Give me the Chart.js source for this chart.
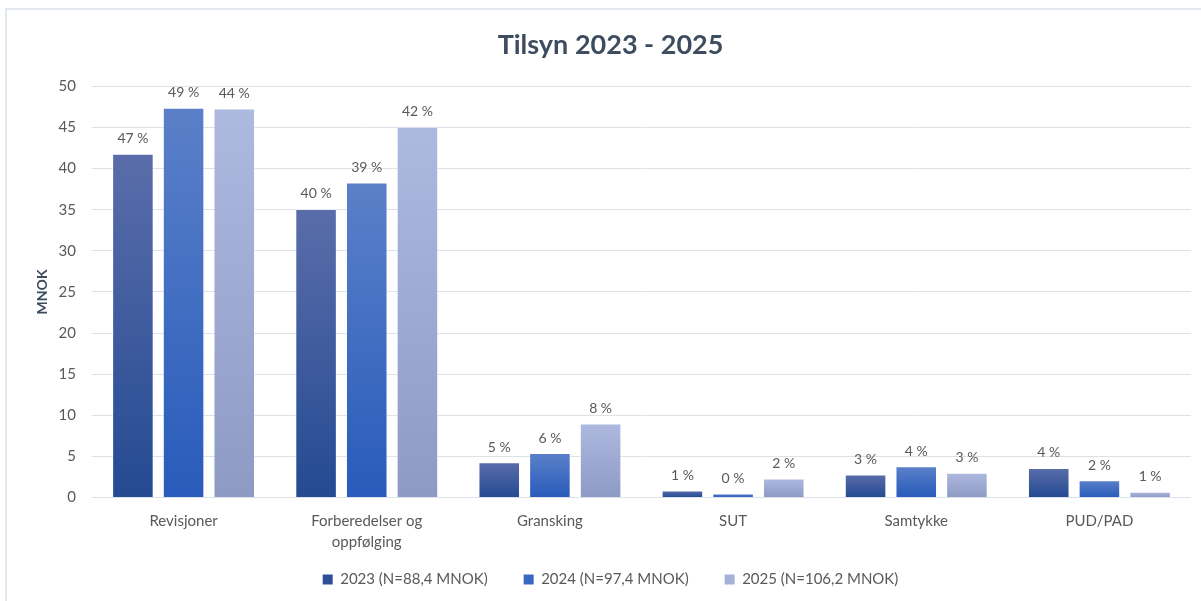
<!DOCTYPE html>
<html>
<head>
<meta charset="utf-8">
<script src="https://cdn.jsdelivr.net/npm/chart.js@4/dist/chart.umd.min.js"></script>
<style>
  html, body { margin: 0; padding: 0; background: #fff; }
  #wrap { position: relative; width: 1201px; height: 601px; }
  #frame {
    position: absolute; left: 5px; top: 8px; right: 0; bottom: 0;
    border-left: 2px solid #e3e7ef; border-top: 2px solid #e3e7ef;
    pointer-events: none;
  }
  canvas { position: absolute; left: 0; top: 0; }
</style>
</head>
<body>
<div id="wrap">
  <canvas id="chart" width="1201" height="601"></canvas>
  <div id="frame"></div>
</div>
<script>
const categories = ['Revisjoner', ['Forberedelser og', 'oppfølging'], 'Gransking', 'SUT', 'Samtykke', 'PUD/PAD'];
const seriesNames = ['2023 (N=88,4 MNOK)', '2024 (N=97,4 MNOK)', '2025 (N=106,2 MNOK)'];

const values2023 = [41.8, 35.1, 4.3, 0.85, 2.8, 3.6];
const values2024 = [47.4, 38.3, 5.4, 0.5, 3.8, 2.1];
const values2025 = [47.3, 45.1, 9.0, 2.3, 3.0, 0.7];

const percent2023 = ['47 %', '40 %', '5 %', '1 %', '3 %', '4 %'];
const percent2024 = ['49 %', '39 %', '6 %', '0 %', '4 %', '2 %'];
const percent2025 = ['44 %', '42 %', '8 %', '2 %', '3 %', '1 %'];

const yTicks = [0, 5, 10, 15, 20, 25, 30, 35, 40, 45, 50];

const textColor = '#595959';
const fontFamily = 'Lato, "Open Sans", sans-serif';

// top / bottom colours of each bar's gradient, plus a flat legend colour
const palettes = [
  { top: '#5a6daa', bottom: '#244a92', legend: '#2e4f95' },
  { top: '#5b80c8', bottom: '#285bbb', legend: '#3a67c3' },
  { top: '#aeb9e0', bottom: '#8d9ac4', legend: '#a5b1d9' },
];

const barGradient = (palette) => (context) => {
  const chart = context.chart;
  const yScale = chart.scales.y;
  if (!chart.chartArea || !yScale || context.raw === undefined) {
    return palette.legend;
  }
  const top = yScale.getPixelForValue(context.raw);
  const bottom = yScale.getPixelForValue(0);
  const gradient = chart.ctx.createLinearGradient(0, top, 0, bottom);
  gradient.addColorStop(0, palette.top);
  gradient.addColorStop(1, palette.bottom);
  return gradient;
};

const percentLabels = [percent2023, percent2024, percent2025];

const percentLabelPlugin = {
  id: 'percentLabels',
  afterDatasetsDraw(chart) {
    const ctx = chart.ctx;
    ctx.save();
    ctx.font = '14px ' + fontFamily;
    ctx.fillStyle = textColor;
    ctx.textAlign = 'center';
    ctx.textBaseline = 'bottom';
    chart.data.datasets.forEach((dataset, datasetIndex) => {
      const meta = chart.getDatasetMeta(datasetIndex);
      meta.data.forEach((bar, index) => {
        ctx.fillText(percentLabels[datasetIndex][index], bar.x, bar.y - 8);
      });
    });
    ctx.restore();
  },
};

// the legend keeps wide gaps between items but takes less vertical room,
// so it sits close under the two-line category labels
const legendOverlap = 22;
const legendSpacingPlugin = {
  id: 'legendSpacing',
  beforeLayout(chart) {
    const legend = chart.legend;
    if (legend && !legend._spacingWrapped) {
      const fit = legend.fit;
      legend.fit = function () {
        fit.call(this);
        this.height -= legendOverlap;
      };
      legend._spacingWrapped = true;
    }
  },
  afterLayout(chart) {
    if (chart.legend) {
      chart.legend.top -= legendOverlap;
    }
  },
};

const datasets = [values2023, values2024, values2025].map((values, i) => ({
  label: seriesNames[i],
  data: values,
  backgroundColor: barGradient(palettes[i]),
  borderColor: 'rgba(255,255,255,0.35)',
  borderWidth: 1,
  barPercentage: 0.82,
  categoryPercentage: 0.83,
}));

new Chart(document.querySelector('#chart'), {
  type: 'bar',
  data: {
    labels: categories,
    datasets: datasets,
  },
  options: {
    responsive: false,
    animation: false,
    layout: {
      padding: { left: 30, right: 10, top: 14, bottom: 4 },
    },
    plugins: {
      title: {
        display: true,
        text: 'Tilsyn 2023 - 2025',
        color: '#3e4c60',
        font: { family: fontFamily, size: 27, weight: 'bold' },
        padding: { top: 15, bottom: 25 },
      },
      legend: {
        position: 'bottom',
        labels: {
          color: textColor,
          font: { family: fontFamily, size: 15 },
          boxWidth: 10,
          boxHeight: 10,
          padding: 36,
          generateLabels: (chart) =>
            chart.data.datasets.map((dataset, i) => ({
              text: dataset.label,
              fillStyle: palettes[i].legend,
              strokeStyle: palettes[i].legend,
              lineWidth: 0,
              fontColor: textColor,
              datasetIndex: i,
            })),
        },
      },
      tooltip: { enabled: false },
    },
    scales: {
      x: {
        grid: { display: false },
        border: { display: false },
        ticks: {
          color: textColor,
          font: { family: fontFamily, size: 15, lineHeight: 1.35 },
          padding: 6,
          maxRotation: 0,
        },
      },
      y: {
        min: 0,
        max: 50,
        afterBuildTicks: (scale) => {
          scale.ticks = yTicks.map((value) => ({ value: value }));
        },
        afterFit: (scale) => {
          scale.width = 62;
        },
        grid: { color: '#dde2ea', lineWidth: 1, drawTicks: false },
        border: { display: false },
        ticks: {
          color: textColor,
          font: { family: fontFamily, size: 15 },
          padding: 16,
        },
        title: {
          display: true,
          text: 'MNOK',
          color: '#3e4c60',
          font: { family: fontFamily, size: 14, weight: 'bold' },
          padding: { top: 4, bottom: 0 },
        },
      },
    },
  },
  plugins: [percentLabelPlugin, legendSpacingPlugin],
});
</script>
</body>
</html>
